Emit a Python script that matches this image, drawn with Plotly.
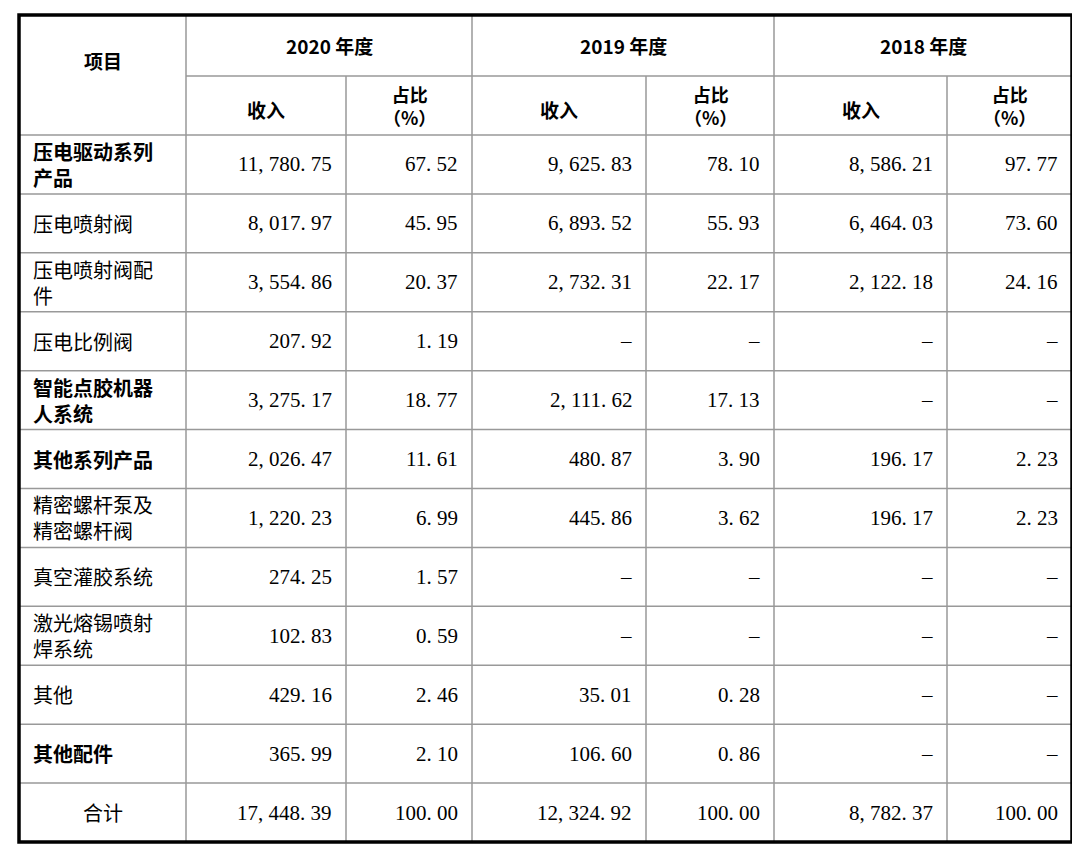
import plotly.graph_objects as go

items = ["压电驱动系列<br>产品", "压电喷射阀", "压电喷射阀配<br>件", "压电比例阀", "智能点胶机器<br>人系统",
         "其他系列产品", "精密螺杆泵及<br>精密螺杆阀", "真空灌胶系统", "激光熔锡喷射<br>焊系统", "其他", "其他配件", "合计"]
bold_rows = [0, 4, 5, 10]
rev2020 = ["11,780.75", "8,017.97", "3,554.86", "207.92", "3,275.17", "2,026.47", "1,220.23", "274.25", "102.83", "429.16", "365.99", "17,448.39"]
pct2020 = ["67.52", "45.95", "20.37", "1.19", "18.77", "11.61", "6.99", "1.57", "0.59", "2.46", "2.10", "100.00"]
rev2019 = ["9,625.83", "6,893.52", "2,732.31", "-", "2,111.62", "480.87", "445.86", "-", "-", "35.01", "106.60", "12,324.92"]
pct2019 = ["78.10", "55.93", "22.17", "-", "17.13", "3.90", "3.62", "-", "-", "0.28", "0.86", "100.00"]
rev2018 = ["8,586.21", "6,464.03", "2,122.18", "-", "-", "196.17", "196.17", "-", "-", "-", "-", "8,782.37"]
pct2018 = ["97.77", "73.60", "24.16", "-", "-", "2.23", "2.23", "-", "-", "-", "-", "100.00"]
years = ["2020 年度", "2019 年度", "2018 年度"]

cols = [19, 186, 346, 472, 646, 774, 947, 1072]
top, mid, hdr, bot = 15, 76, 135, 842
rh = (bot - hdr) / len(items)
OFF = 8  # page body margin

CJK = "Noto Sans CJK SC"
NUM = "Liberation Serif, Noto Sans CJK SC"

def fmt(s):
    if s == "-":
        return "–"
    return s.replace(",", ", ").replace(".", ". ")

fig = go.Figure()
fig.add_trace(go.Scatter(x=[OFF, 1080 + OFF], y=[OFF, 858 + OFF], mode="markers", marker=dict(opacity=0), hoverinfo="skip"))
shapes = []
ann = []
grey = dict(color="#999999", width=1.5)
shapes.append(dict(type="line", x0=cols[1], x1=cols[-1], y0=mid, y1=mid, line=grey))
for i in range(len(items)):
    y = hdr + i * rh
    shapes.append(dict(type="line", x0=cols[0], x1=cols[-1], y0=y, y1=y, line=grey))
for j, x in enumerate(cols[1:-1], start=1):
    y0 = top if j % 2 == 1 else mid
    shapes.append(dict(type="line", x0=x, x1=x, y0=y0, y1=bot, line=grey))
shapes.append(dict(type="rect", x0=cols[0], x1=cols[-1], y0=top, y1=bot, line=dict(color="black", width=3.5)))

def a(x, y, t, size=19, bold=False, xanchor="center", font=CJK):
    ann.append(dict(x=x, y=y, text=f"<b>{t}</b>" if bold else t, showarrow=False, xanchor=xanchor,
                    yanchor="middle", font=dict(family=font, size=size, color="black"),
                    align="left" if xanchor == "left" else "center"))

a(1082, 1, "单位：万元", size=20, xanchor="right")
a((cols[0] + cols[1]) / 2, (top + hdr) / 2 - 15, "项目", bold=True)
for k, yr in enumerate(years):
    c0, c1, c2 = cols[1 + 2 * k], cols[2 + 2 * k], cols[3 + 2 * k]
    a((c0 + c2) / 2, (top + mid) / 2, yr, bold=True)
    a((c0 + c1) / 2, (mid + hdr) / 2 + 4, "收入", bold=True)
    a((c1 + c2) / 2, (mid + hdr) / 2, "占比<br>（%）", bold=True, size=18)

data = [rev2020, pct2020, rev2019, pct2019, rev2018, pct2018]
for i, name in enumerate(items):
    yc = hdr + (i + 0.5) * rh
    b = i in bold_rows
    if i == len(items) - 1:
        a((cols[0] + cols[1]) / 2, yc, name, size=20)
    else:
        a(cols[0] + 12, yc, name, bold=b, size=20, xanchor="left")
    for j, col in enumerate(data):
        a(cols[j + 2] - 12, yc, fmt(col[i]), size=21, xanchor="right", font=NUM)

fig.update_layout(width=1080, height=858, margin=dict(l=0, r=0, t=0, b=0), showlegend=False,
                  plot_bgcolor="white", paper_bgcolor="white", shapes=shapes, annotations=ann,
                  xaxis=dict(range=[OFF, 1080 + OFF], visible=False, fixedrange=True),
                  yaxis=dict(range=[858 + OFF, OFF], visible=False, fixedrange=True))
fig.write_html("out.html")
